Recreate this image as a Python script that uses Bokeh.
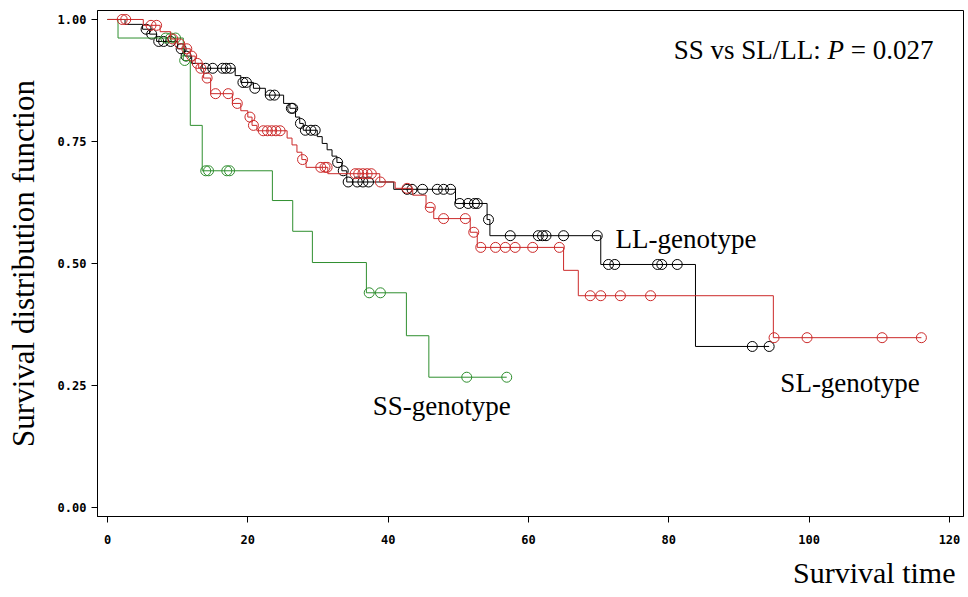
import numpy as np
from bokeh.plotting import figure
from bokeh.models import Label, Range1d, FixedTicker, NumeralTickFormatter, Title
from bokeh.embed import file_html
from bokeh.resources import INLINE

# ---------------- data ----------------
x_ticks = [0, 20, 40, 60, 80, 100, 120]
y_ticks = [0.0, 0.25, 0.50, 0.75, 1.00]

# LL-genotype (black)
ll_event_t = [2.5, 5.0, 6.0, 7.0, 10.0, 11.0, 12.0, 13.5, 18.2, 19.0, 20.8, 22.5,
              25.1, 26.0, 26.8, 27.4, 27.9, 29.9, 30.6, 31.3, 32.0, 32.7, 33.4,
              34.1, 40.8, 49.6, 54.1, 54.5, 70.3, 83.8]
ll_event_s = [0.99, 0.98, 0.97, 0.955, 0.94, 0.925, 0.91, 0.90, 0.885, 0.871, 0.859,
              0.845, 0.828, 0.818, 0.80, 0.787, 0.773, 0.760, 0.746, 0.733, 0.720,
              0.707, 0.690, 0.667, 0.652, 0.623, 0.590, 0.557, 0.498, 0.330]
ll_cens_t = [5.5, 6.3, 7.3, 8.0, 9.0, 10.5, 11.2, 14.0, 15.0, 16.4, 16.9, 17.5, 19.3,
             19.8, 21.0, 23.2, 23.8, 26.2, 26.4, 27.5, 28.2, 29.0, 29.6, 32.8, 33.6,
             34.3, 35.6, 36.4, 37.2, 42.7, 43.4, 44.9, 47.0, 47.9, 48.9, 50.2, 51.4,
             52.3, 52.7, 54.3, 57.4, 61.4, 62.0, 62.5, 65.0, 69.8, 71.4, 72.3, 78.4,
             79.0, 81.2, 91.9, 94.3]

# SL-genotype (red)
sl_event_t = [5.1, 7.5, 9.0, 10.0, 11.0, 11.8, 12.5, 13.0, 13.7, 14.7, 17.8, 19.0,
              20.0, 20.6, 21.3, 25.6, 26.3, 27.0, 27.7, 28.3, 31.4, 38.8, 41.0, 43.5,
              45.4, 46.5, 51.7, 52.7, 65.0, 67.1, 94.9]
sl_event_s = [0.988, 0.975, 0.96, 0.95, 0.94, 0.925, 0.91, 0.90, 0.88, 0.848, 0.828,
              0.813, 0.800, 0.783, 0.772, 0.757, 0.743, 0.728, 0.713, 0.697, 0.684,
              0.667, 0.654, 0.640, 0.615, 0.592, 0.564, 0.533, 0.486, 0.434, 0.348]
sl_cens_t = [2.1, 2.6, 6.2, 7.0, 9.3, 10.3, 11.3, 12.0, 12.8, 13.3, 14.2, 15.4, 17.2,
             18.5, 20.3, 20.8, 22.2, 22.8, 23.4, 24.0, 24.6, 27.8, 30.4, 31.0, 31.3,
             35.3, 35.8, 36.4, 37.0, 37.6, 38.9, 42.7, 46.0, 47.9, 51.0, 52.2, 53.2,
             55.3, 56.7, 58.1, 60.6, 64.4, 68.8, 70.3, 73.1, 77.4, 95.0, 99.7, 110.4,
             116.0]

# SS-genotype (green)
ss_event_t = [1.5, 10.8, 11.8, 13.5, 23.5, 26.4, 29.2, 36.9, 42.6, 45.8]
ss_event_s = [0.962, 0.916, 0.783, 0.690, 0.629, 0.566, 0.502, 0.440, 0.352, 0.267]
ss_cens_t = [8.3, 9.0, 9.7, 11.0, 14.0, 14.4, 17.0, 17.4, 37.3, 38.9, 51.2, 56.9]

# ---------------- helpers ----------------
def step_path(ev_t, ev_s, t_end):
    xs = [0.0] + list(ev_t) + [t_end]
    ys = [1.0] + list(ev_s) + [ev_s[-1]]
    return xs, ys

def surv_at(ev_t, ev_s, t):
    s = 1.0
    for et, es in zip(ev_t, ev_s):
        if et <= t:
            s = es
    return s

serif = "Liberation Serif"

# ---------------- figure ----------------
p = figure(width=968, height=597, output_backend="svg", toolbar_location=None,
           x_range=Range1d(-1.425, 122.0), y_range=Range1d(-0.0184, 1.0184),
           min_border_left=97, min_border_right=5, min_border_top=10,
           min_border_bottom=81)
p.background_fill_color = "white"
p.border_fill_color = "white"
p.outline_line_color = "black"
p.outline_line_width = 1
p.outline_line_alpha = 1
p.xgrid.visible = False
p.ygrid.visible = False

tick_font = "DejaVu Sans Mono"
for ax in (p.xaxis[0], p.yaxis[0]):
    ax.axis_line_color = "black"
    ax.major_tick_line_color = "black"
    ax.minor_tick_line_color = None
    ax.major_tick_in = 0
    ax.major_tick_out = 6
    ax.major_label_text_font = tick_font
    ax.major_label_text_font_style = "bold"
    ax.major_label_text_font_size = "12px"
    ax.major_label_text_color = "black"

p.xaxis[0].ticker = FixedTicker(ticks=x_ticks)
p.yaxis[0].ticker = FixedTicker(ticks=y_ticks)
p.yaxis[0].formatter = NumeralTickFormatter(format="0.00")
p.xaxis[0].major_label_standoff = 12
p.yaxis[0].major_label_standoff = 5

p.yaxis[0].axis_label = "Survival distribution function"
p.yaxis[0].axis_label_text_font = serif
p.yaxis[0].axis_label_text_font_size = "31px"
p.yaxis[0].axis_label_text_font_style = "normal"
p.yaxis[0].axis_label_text_color = "black"
p.yaxis[0].axis_label_standoff = 14

p.add_layout(Title(text="Survival time", align="right", offset=8, standoff=14,
                   text_font=serif, text_font_size="30px", text_font_style="normal",
                   text_color="black"), "below")

curves = [
    (ll_event_t, ll_event_s, ll_cens_t, "black"),
    (ss_event_t, ss_event_s, ss_cens_t, "#2f8f2f"),
    (sl_event_t, sl_event_s, sl_cens_t, "#cc2a2a"),
]
for ev_t, ev_s, c_t, col in curves:
    xs, ys = step_path(ev_t, ev_s, max(c_t))
    p.step(xs, ys, mode="after", line_color=col, line_width=1)
    cy = [surv_at(ev_t, ev_s, t) for t in c_t]
    p.scatter(c_t, cy, marker="circle", size=10, fill_color=None,
              line_color=col, line_width=1)

# P-value annotation with italic P
fs = 27
w1 = 5.696 * fs   # width of "SS vs SL/LL: "
w2 = 0.611 * fs   # width of italic "P"
wsp = 0.25 * fs   # a space
for txt, off, style in [("SS vs SL/LL:", 0, "normal"), ("P", w1, "italic"),
                        ("= 0.027", w1 + w2 + wsp, "normal")]:
    p.add_layout(Label(x=80.7, y=0.937, x_offset=off, text=txt,
                       text_font=serif, text_font_size=f"{fs}px",
                       text_font_style=style, text_baseline="middle",
                       text_align="left", text_color="black"))

for txt, x, y in [("LL-genotype", 72.4, 0.551), ("SL-genotype", 95.9, 0.256),
                  ("SS-genotype", 37.8, 0.209)]:
    p.add_layout(Label(x=x, y=y, text=txt, text_font=serif, text_font_size="27px",
                       text_baseline="middle", text_align="left", text_color="black"))

open("out.html", "w").write(file_html(p, INLINE))
